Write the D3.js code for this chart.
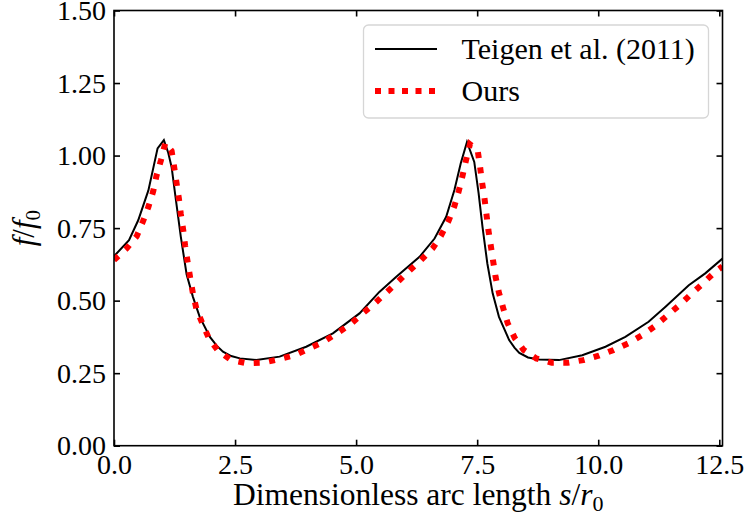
<!DOCTYPE html>
<html>
<head>
<meta charset="utf-8">
<script src="https://cdn.jsdelivr.net/npm/d3@7"></script>
<style>
  body { margin: 0; background: #fff; }
  svg text { font-family: "Liberation Serif", "Times New Roman", Times, serif; }
</style>
</head>
<body>
<svg width="747" height="525"></svg>
<script>
// Teigen et al. (2011)
const teigenS = [0, 0.31, 0.5, 0.71, 0.9, 1.03, 1.12, 1.19, 1.27, 1.38, 1.5, 1.63, 1.77, 1.98, 2.12, 2.25, 2.42, 2.6, 2.94, 3.42, 3.97, 4.52, 5.07, 5.48, 5.83, 6.31,
  6.62, 6.86, 7.03, 7.16, 7.29, 7.44, 7.53, 7.61, 7.71, 7.82, 7.95, 8.16, 8.27, 8.37, 8.55, 8.78, 9.19, 9.67, 10.15, 10.56, 11.04, 11.39, 11.87, 12.21, 12.566];
const teigenF = [0.653, 0.708, 0.777, 0.88, 1.025, 1.053, 1.01, 0.96, 0.858, 0.72, 0.59, 0.513, 0.444, 0.375, 0.345, 0.324, 0.309, 0.301, 0.295, 0.307, 0.341, 0.387, 0.456, 0.53, 0.582, 0.651,
  0.714, 0.789, 0.881, 0.973, 1.047, 0.978, 0.87, 0.754, 0.628, 0.525, 0.444, 0.364, 0.338, 0.32, 0.304, 0.297, 0.295, 0.312, 0.341, 0.375, 0.427, 0.479, 0.553, 0.594, 0.645];

// Ours
const oursS = [0, 0.26, 0.47, 0.6, 0.71, 0.81, 0.88, 0.97, 1.06, 1.19, 1.24, 1.29, 1.34, 1.38, 1.43, 1.47, 1.52, 1.57, 1.63, 1.7, 1.83, 1.96, 2.15, 2.42, 2.75, 3.08, 3.41, 3.73, 4.04, 4.33, 4.6, 4.88, 5.12, 5.38, 5.62, 5.86, 6.1, 6.34,
  6.58, 6.75, 6.91, 7.03, 7.12, 7.2, 7.27, 7.35, 7.51, 7.56, 7.6, 7.65, 7.69, 7.73, 7.78, 7.83, 7.88, 7.95, 8.04, 8.13, 8.28, 8.46, 8.72, 9.04, 9.37, 9.69, 10.01, 10.32, 10.62, 10.91, 11.17, 11.42, 11.68, 11.92, 12.16, 12.4, 12.566];
const oursF = [0.64, 0.68, 0.722, 0.774, 0.823, 0.877, 0.932, 0.984, 1.044, 1.016, 0.963, 0.907, 0.852, 0.798, 0.743, 0.688, 0.634, 0.582, 0.525, 0.473, 0.419, 0.37, 0.327, 0.295, 0.284, 0.286, 0.298, 0.312, 0.336, 0.358, 0.387, 0.418, 0.454, 0.49, 0.527, 0.565, 0.603, 0.64,
  0.68, 0.723, 0.775, 0.826, 0.878, 0.932, 0.984, 1.039, 1.019, 0.961, 0.909, 0.854, 0.8, 0.745, 0.691, 0.636, 0.582, 0.527, 0.473, 0.422, 0.37, 0.33, 0.301, 0.286, 0.286, 0.295, 0.31, 0.33, 0.353, 0.381, 0.412, 0.448, 0.485, 0.523, 0.559, 0.597, 0.618];

const xTicks = [0, 2.5, 5, 7.5, 10, 12.5];
const yTicks = [0, 0.25, 0.5, 0.75, 1.0, 1.25, 1.5];
const seriesNames = ["Teigen et al. (2011)", "Ours"];

const svg = d3.select("svg");
const m = { left: 114, right: 722.5, top: 10.5, bottom: 445.7 };
const x = d3.scaleLinear().domain([0, 4 * Math.PI]).range([m.left, m.right]);
const y = d3.scaleLinear().domain([0, 1.5]).range([m.bottom, m.top]);
const serif = "'Liberation Serif', 'Times New Roman', serif";

function styleAxis(g) {
  g.attr("font-family", serif);
  g.select(".domain").remove();
  g.selectAll(".tick line").attr("stroke", "#000").attr("stroke-width", 1.6);
  g.selectAll(".tick text").attr("fill", "#000").style("font-size", "28px")
    .style("font-family", serif);
}

svg.append("g").attr("transform", `translate(0,${m.bottom})`)
  .call(d3.axisBottom(x).tickValues(xTicks).tickFormat(d3.format(".1f")).tickSize(-6).tickPadding(8.5))
  .call(styleAxis);
svg.append("g").attr("transform", `translate(0,${m.top})`)
  .call(d3.axisTop(x).tickValues(xTicks).tickFormat("").tickSize(-6))
  .call(styleAxis);
svg.append("g").attr("transform", `translate(${m.left},0)`)
  .call(d3.axisLeft(y).tickValues(yTicks).tickFormat(d3.format(".2f")).tickSize(-6).tickPadding(8))
  .call(styleAxis);
svg.append("g").attr("transform", `translate(${m.right},0)`)
  .call(d3.axisRight(y).tickValues(yTicks).tickFormat("").tickSize(-6))
  .call(styleAxis);

const line = d3.line().x(d => x(d[0])).y(d => y(d[1]));

svg.append("defs").append("clipPath").attr("id", "clip")
  .append("rect").attr("x", m.left).attr("y", m.top).attr("width", m.right - m.left).attr("height", m.bottom - m.top);

const plot = svg.append("g").attr("clip-path", "url(#clip)");
plot.append("path")
  .datum(d3.zip(teigenS, teigenF))
  .attr("d", line)
  .attr("fill", "none").attr("stroke", "#000").attr("stroke-width", 2);
plot.append("path")
  .datum(d3.zip(oursS, oursF))
  .attr("d", line)
  .attr("fill", "none").attr("stroke", "#ff0000").attr("stroke-width", 6)
  .attr("stroke-dasharray", "6,9.5");

// frame
svg.append("rect")
  .attr("x", m.left).attr("y", m.top).attr("width", m.right - m.left).attr("height", m.bottom - m.top)
  .attr("fill", "none").attr("stroke", "#000").attr("stroke-width", 1.6);

// legend
const lg = svg.append("g");
lg.append("rect")
  .attr("x", 363.5).attr("y", 25).attr("width", 345).attr("height", 93).attr("rx", 5)
  .attr("fill", "#fff").attr("fill-opacity", 0.8).attr("stroke", "#d6d6d6").attr("stroke-width", 1.3);
lg.append("line").attr("x1", 375).attr("x2", 437).attr("y1", 49).attr("y2", 49)
  .attr("stroke", "#000").attr("stroke-width", 2);
lg.append("line").attr("x1", 375).attr("x2", 437).attr("y1", 91).attr("y2", 91)
  .attr("stroke", "#ff0000").attr("stroke-width", 6).attr("stroke-dasharray", "6,7.5");
lg.selectAll("text.lab").data(seriesNames).join("text")
  .attr("class", "lab")
  .attr("x", 461.5).attr("y", (d, i) => 58.5 + i * 42)
  .attr("font-family", serif)
  .style("font-size", "30px").text(d => d);

// axis labels
const xl = svg.append("text").attr("x", (m.left + m.right) / 2).attr("y", 505)
  .attr("text-anchor", "middle").attr("font-family", serif).style("font-size", "31.5px");
xl.append("tspan").text("Dimensionless arc length ");
xl.append("tspan").style("font-style", "italic").text("s");
xl.append("tspan").text("/");
xl.append("tspan").style("font-style", "italic").text("r");
xl.append("tspan").attr("dy", 6).style("font-size", "22px").text("0");

const yl = svg.append("text")
  .attr("transform", `translate(34,${(m.top + m.bottom) / 2}) rotate(-90)`)
  .attr("text-anchor", "middle").attr("font-family", serif).style("font-size", "31px");
yl.append("tspan").style("font-style", "italic").text("f");
yl.append("tspan").text("/");
yl.append("tspan").style("font-style", "italic").text("f");
yl.append("tspan").attr("dy", 6).style("font-size", "21px").text("0");
</script>
</body>
</html>
